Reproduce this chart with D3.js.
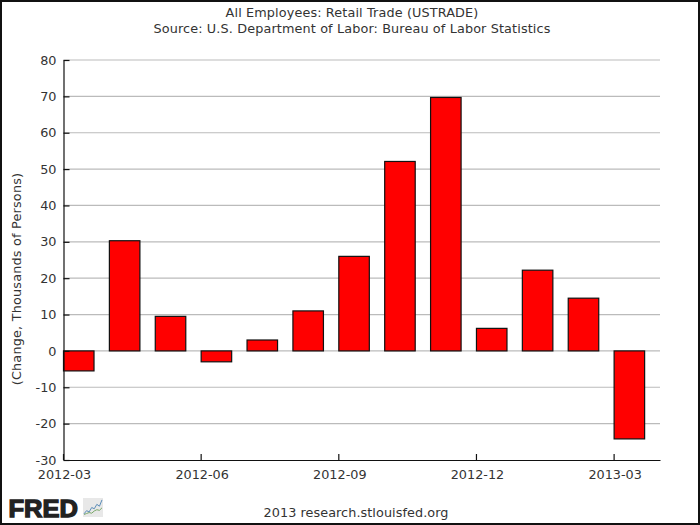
<!DOCTYPE html>
<html><head><meta charset="utf-8">
<script src="https://cdn.jsdelivr.net/npm/d3@7/dist/d3.min.js"></script>
<style>html,body{margin:0;padding:0;background:#fff}svg{display:block}text{font-family:"DejaVu Sans",sans-serif;fill:#333}</style>
</head><body><script>
const months=["2012-03","2012-04","2012-05","2012-06","2012-07","2012-08","2012-09","2012-10","2012-11","2012-12","2013-01","2013-02","2013-03"];
const values=[-5.5,30.3,9.5,-3,3,11,26,52.1,69.7,6.2,22.2,14.5,-24.2];
const xTickLabels=["2012-03","2012-06","2012-09","2012-12","2013-03"];
const yTicks=[-30,-20,-10,0,10,20,30,40,50,60,70,80];
const titleLines=["All Employees: Retail Trade (USTRADE)","Source: U.S. Department of Labor: Bureau of Labor Statistics"];
const yTitle="(Change, Thousands of Persons)";
const footer="2013 research.stlouisfed.org";
const logoBlue=[1,2,1.6,3,2.6,4,3.4,5.4];
const logoGreen=[0.8,1.1,1.4,1.2,1.9,2.3,2.1,2.9];

const W=700,H=525,L=63.5,R=660,T=60,B=460;
const svg=d3.select("body").append("svg").attr("width",W).attr("height",H);
svg.append("rect").attr("x",1).attr("y",1).attr("width",W-2).attr("height",H-2).attr("fill","#fff").attr("stroke","#111").attr("stroke-width",2);

const x=d3.scaleBand().domain(months).range([L,R]).paddingInner(0.335).paddingOuter(0.1675).align(0);
const y=d3.scaleLinear().domain([-30,80]).range([B,T]);

svg.append("g").selectAll("line").data(yTicks.filter(d=>d>-30)).join("line")
 .attr("x1",L).attr("x2",R).attr("y1",d=>y(d)).attr("y2",d=>y(d)).attr("stroke","#bbb").attr("stroke-width",1.2);

svg.append("g").selectAll("rect").data(values).join("rect")
 .attr("x",(d,i)=>x(months[i])).attr("width",x.bandwidth())
 .attr("y",d=>y(Math.max(0,d))).attr("height",d=>Math.abs(y(d)-y(0)))
 .attr("fill","#ff0000").attr("stroke","#111").attr("stroke-width",1.2);

const yAxis=d3.axisLeft(y).tickValues(yTicks).tickSize(0).tickPadding(7).tickFormat(d=>String(d));
const gy=svg.append("g").attr("transform",`translate(${L},0)`).call(yAxis);
gy.select(".domain").attr("stroke","#111").attr("stroke-width",1.2);
gy.selectAll(".tick line").attr("x1",0).attr("x2",6).attr("stroke","#111").attr("stroke-width",1.2);
gy.selectAll("text").attr("font-size",12.8).style("font-family",'"DejaVu Sans",sans-serif').attr("fill","#333");

const xAxis=d3.axisBottom(x).tickValues(xTickLabels).tickSize(0).tickPadding(10);
const gx=svg.append("g").attr("transform",`translate(0,${B})`).call(xAxis);
gx.select(".domain").attr("stroke","#111").attr("stroke-width",1.2);
gx.selectAll(".tick").attr("transform",d=>`translate(${x(d)},0)`);
gx.selectAll(".tick line").attr("y1",0).attr("y2",-6).attr("stroke","#111").attr("stroke-width",1.2);
gx.selectAll("text").attr("font-size",12.8).attr("x",1).style("font-family",'"DejaVu Sans",sans-serif').attr("fill","#333");

svg.selectAll("text.title").data(titleLines).join("text").attr("class","title")
 .attr("x",352).attr("y",(d,i)=>17+i*16).attr("text-anchor","middle").attr("font-size",12.8).attr("letter-spacing",0.13).text(d=>d);
svg.append("text").attr("transform","translate(21,279) rotate(-90)").attr("text-anchor","middle").attr("font-size",12.8).attr("letter-spacing",0.2).text(yTitle);
svg.append("text").attr("x",356).attr("y",517).attr("text-anchor","middle").attr("font-size",12.8).attr("letter-spacing",0.07).text(footer);

svg.append("text").attr("x",8.5).attr("y",516.5).attr("font-size",24.5).attr("font-weight",700).attr("stroke","#222").attr("stroke-width",1.3)
 .attr("textLength",69.5).attr("lengthAdjust","spacingAndGlyphs")
 .style("font-family",'"Liberation Sans",sans-serif').style("fill","#222").text("FRED");
const lx=d3.scaleLinear().domain([0,7]).range([84,102]);
const ly=d3.scaleLinear().domain([0,6]).range([517,498]);
svg.append("rect").attr("x",lx(0)-1).attr("y",ly(6)).attr("width",20).attr("height",19).attr("fill","#e8e8e8");
const ln=d3.line().x((d,i)=>lx(i)).y(d=>ly(d));
svg.append("path").attr("d",ln(logoGreen)).attr("fill","none").attr("stroke","#7aa86a").attr("stroke-width",1);
svg.append("path").attr("d",ln(logoBlue)).attr("fill","none").attr("stroke","#5b8db8").attr("stroke-width",1);
</script></body></html>
